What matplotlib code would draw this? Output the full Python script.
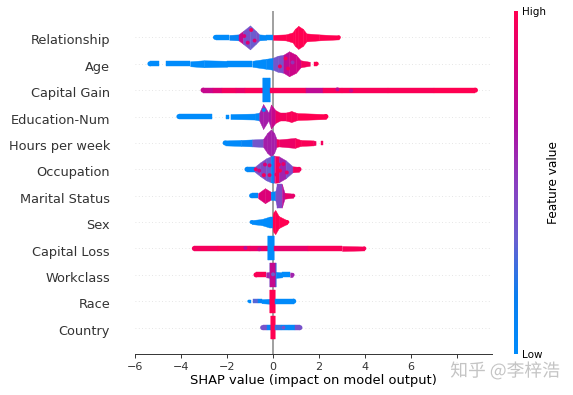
import numpy as np
import matplotlib
matplotlib.use("Agg")
import matplotlib.pyplot as plt
import matplotlib.patheffects as pe
from matplotlib.colors import LinearSegmentedColormap

nan = float("nan")

features = ["Relationship", "Age", "Capital Gain", "Education-Num", "Hours per week", "Occupation",
            "Marital Status", "Sex", "Capital Loss", "Workclass", "Race", "Country"]

# each feature: shap value knots, swarm height at the knots, mean feature value between knots (nan = gap)
rel_x = [-2.5, -1.9, -1.5, -1.3, -1.0, -0.75, -0.6, -0.3, 0.0, 0.55, 0.85, 0.95, 1.1, 1.3, 1.45, 2.0, 2.86]
rel_n = [5, 5, 6, 13, 24, 13, 6, 5, 5, 6, 10, 17, 23, 17, 8, 6, 4]
rel_v = [0.0, 0.1, 0.75, 0.4, 0.35, 0.4, 0.05, 0.0, 1.0, 1.0, 1.0, 1.0, 1.0, 1.0, 1.0, 1.0]

age_x = [-5.35, -4.95, -4.66, -3.6, -3.0, -2.0, -0.9, -0.3, 0.0, 0.2, 0.45, 0.7, 1.0, 1.2, 1.6, 1.8, 1.9]
age_n = [5, 5, 5, 5, 7, 6, 6, 10, 12, 16, 18, 25, 18, 7, 4, 4, 4]
age_v = [0.0, nan, 0.0, 0.0, 0.0, 0.0, 0.0, 0.05, 0.38, 0.4, 0.72, 0.78, 0.8, 0.95, nan, 1.0]

gain_x = [-3.04, -2.6, -2.2, -1.6, -1.2, -0.42, -0.42, -0.13, -0.13, 1.45, 2.17, 3.0, 5.0, 7.0, 8.8]
gain_n = [5, 5, 5, 5, 5, 5, 24, 24, 5, 5, 5, 5, 5, 5, 5]
gain_v = [0.75, 0.85, 0.95, 0.9, 0.97, 0.0, 0.02, 0.0, 0.97, 0.72, 0.97, 0.97, 0.98, 1.0]

edu_x = [-4.09, -2.65, -2.05, -1.9, -1.85, -0.8, -0.6, -0.43, -0.2, -0.09, 0.1, 0.3, 0.55, 0.8, 1.05, 2.3]
edu_n = [5, 5, 4, 4, 5, 6, 8, 25, 8, 24, 13, 8, 8, 11, 7, 5]
edu_v = [0.0, nan, 0.0, nan, 0.0, 0.05, 0.62, 0.62, 0.65, 0.75, 0.92, 0.95, 0.97, 0.97, 1.0]

hrs_x = [-2.08, -1.4, -0.9, -0.43, -0.25, -0.09, 0.05, 0.15, 0.25, 0.95, 1.2, 1.75, 1.85, 2.08, 2.17, 2.3]
hrs_n = [5, 6, 7, 8, 20, 27, 20, 8, 7, 10, 6, 5, 4, 4, 4, 4]
hrs_v = [0.02, 0.1, 0.38, 0.62, 0.62, 0.62, 0.62, 0.95, 0.92, 0.97, 0.98, 0.95, nan, 0.95, nan]

occ_x = [-1.13, -0.8, -0.55, -0.3, -0.1, 0.03, 0.08, 0.25, 0.55, 0.85, 1.13]
occ_n = [5, 5, 14, 22, 26, 27, 27, 26, 18, 6, 5]
occ_v = [0.05, 0.4, 0.45, 0.35, 0.1, 0.5, 0.95, 0.6, 0.4, 0.95]

mar_x = [-0.93, -0.65, -0.35, -0.1, 0.1, 0.18, 0.38, 0.5, 0.88]
mar_n = [5, 5, 15, 8, 9, 24, 24, 6, 4]
mar_v = [0.05, 0.85, 0.85, 0.05, 0.4, 0.45, 0.7, 0.9]

sex_x = [-0.93, -0.5, -0.15, -0.02, 0.02, 0.1, 0.25, 0.55, 0.62]
sex_n = [4, 6, 11, 11, 20, 24, 12, 5, 4]
sex_v = [0.02, 0.0, 0.0, 1.0, 1.0, 1.0, 1.0, 1.0]

loss_x = [-3.42, -2.4, -1.0, -0.23, -0.23, 0.04, 0.04, 1.5, 3.0, 3.97]
loss_n = [5, 5, 5, 5, 24, 24, 5, 5, 5, 4]
loss_v = [0.95, 0.98, 0.92, 0.02, 0.0, 0.02, 0.9, 0.97, 0.97]

wrk_x = [-0.74, -0.3, -0.13, -0.13, 0.12, 0.12, 0.4, 0.75, 0.85]
wrk_n = [5, 5, 6, 24, 24, 6, 5, 5, 4]
wrk_v = [0.98, 0.6, 0.3, 0.75, 0.15, 0.05, 0.0, 0.6]

race_x = [-1.05, -0.95, -0.85, -0.65, -0.5, -0.15, -0.15, 0.08, 0.08, 0.9]
race_n = [3, 3, 4, 4, 4, 5, 23, 23, 5, 5]
race_v = [0.0, nan, 0.3, 0.1, 0.0, 1.0, 1.0, 1.0, 0.02]

cty_x = [-0.45, -0.25, -0.1, -0.1, 0.08, 0.08, 0.35, 0.7, 0.95, 1.17]
cty_n = [5, 5, 5, 23, 23, 5, 5, 5, 5, 5]
cty_v = [0.4, 0.1, 1.0, 1.0, 1.0, 0.25, 0.05, 0.05, 0.4]

swarms = [(rel_x, rel_n, rel_v), (age_x, age_n, age_v), (gain_x, gain_n, gain_v), (edu_x, edu_n, edu_v),
          (hrs_x, hrs_n, hrs_v), (occ_x, occ_n, occ_v), (mar_x, mar_n, mar_v), (sex_x, sex_n, sex_v),
          (loss_x, loss_n, loss_v), (wrk_x, wrk_n, wrk_v), (race_x, race_n, race_v), (cty_x, cty_n, cty_v)]

# individual points that stand out of the swarm: row, shap value, offset in the row, feature value
spot_row = [0, 0, 0, 0, 1, 1, 1, 1, 5, 5, 5, 5, 5, 5, 5, 5, 5, 5, 5, 5, 3, 9, 11, 8, 8, 2, 2]
spot_x = [-1.1, -0.8, -0.95, -1.25, 0.65, 0.55, 0.85, 0.3, -0.6, -0.35, -0.15, 0.3, 0.45, -0.4, 0.7, 0.25,
          -0.75, -0.15, 0.15, 0.6, -0.4, 0.0, 0.45, -1.2, -0.6, 2.8, 3.4]
spot_o = [-0.2, -0.12, 0.28, 0.05, -0.18, 0.2, 0.05, -0.1, -0.05, 0.18, -0.22, -0.05, 0.2, -0.22, 0.05, 0.18,
          0.0, 0.15, -0.2, -0.12, 0.25, 0.02, 0.0, 0.02, -0.03, 0.03, -0.02]
spot_v = [0.85, 0.85, 0.95, 0.85, 0.95, 0.95, 0.55, 0.95, 0.8, 0.85, 0.9, 1.0, 0.9, 0.95, 0.4, 1.0,
          0.9, 0.85, 0.95, 0.9, 0.1, 0.35, 0.4, 0.7, 0.75, 0.7, 0.75]

xticks = [-6, -4, -2, 0, 2, 4, 6, 8]

cmap = LinearSegmentedColormap.from_list("shap_red_blue", ["#008bfb", "#0a7ff0", "#6a5fd0", "#8a3fc0", "#b010a0", "#d8007c", "#ff0051"])

fig = plt.figure(figsize=(5.73, 3.95), dpi=100)
ax = fig.add_axes([135 / 573, 1 - 354 / 395, (492 - 135) / 573, 343 / 395])

row_px = 343 / 13
n_rows = len(features)

ax.axvline(0, color="#999999", lw=1.3, zorder=1)
for i in range(n_rows):
    ax.axhline(n_rows - 1 - i, color="#dddddd", lw=0.6, ls=(0, (1, 3)), zorder=0)

for i, (xs, ns, vs) in enumerate(swarms):
    y = n_rows - 1 - i
    xs = np.array(xs)
    half = np.array(ns) / row_px / 2
    for j, v in enumerate(vs):
        if np.isnan(v):
            continue
        ax.fill_between(xs[j:j + 2], y - half[j:j + 2], y + half[j:j + 2], color=cmap(v), lw=0.3, zorder=3)
    # rounded ends of the tails
    ax.scatter(xs[[0, -1]], [y, y], s=(np.array(ns)[[0, -1]] * 0.72) ** 2, color=[cmap(vs[0]), cmap(vs[-1])], lw=0, zorder=3)

ax.scatter(spot_x, [n_rows - 1 - r + o for r, o in zip(spot_row, spot_o)], s=8, c=cmap(np.array(spot_v)), lw=0, zorder=4)

ax.set_xlim(-6, 9.52)
ax.set_ylim(-1, 12)
# labels sit a little under their rows
ax.set_yticks(np.arange(n_rows) - 0.08)
ax.set_yticklabels(features[::-1], fontsize=9.3, color="#333333")
ax.set_xticks(xticks)
ax.tick_params(axis="x", labelsize=8, labelcolor="#333333", color="#333333", width=0.7, length=3, pad=2.5)
ax.tick_params(axis="y", length=0, pad=18)
ax.set_xlabel("SHAP value (impact on model output)", fontsize=9.35, labelpad=2, color="black")
for side in ["top", "left", "right"]:
    ax.spines[side].set_visible(False)
ax.spines["bottom"].set_color("#333333")
ax.spines["bottom"].set_linewidth(0.7)

cax = fig.add_axes([514 / 573, 1 - 354 / 395, 4 / 573, 343 / 395])
sm = plt.cm.ScalarMappable(cmap=cmap, norm=plt.Normalize(0, 1))
cb = fig.colorbar(sm, cax=cax, ticks=[0, 1])
cb.ax.set_yticklabels(["Low", "High"], fontsize=7.5)
cb.ax.tick_params(length=0, pad=3)
cb.outline.set_visible(False)
cb.set_label("Feature value", fontsize=8.7, labelpad=0.5)

fig.text(505 / 573, 1 - 371 / 395, "知乎 @李梓浩", fontsize=12.8, color="#c4c4c4", ha="center", va="center",
         family=["Noto Sans CJK SC", "DejaVu Sans"],
         path_effects=[pe.withStroke(linewidth=2.5, foreground="white")])

fig.savefig("out.png", dpi=100)
